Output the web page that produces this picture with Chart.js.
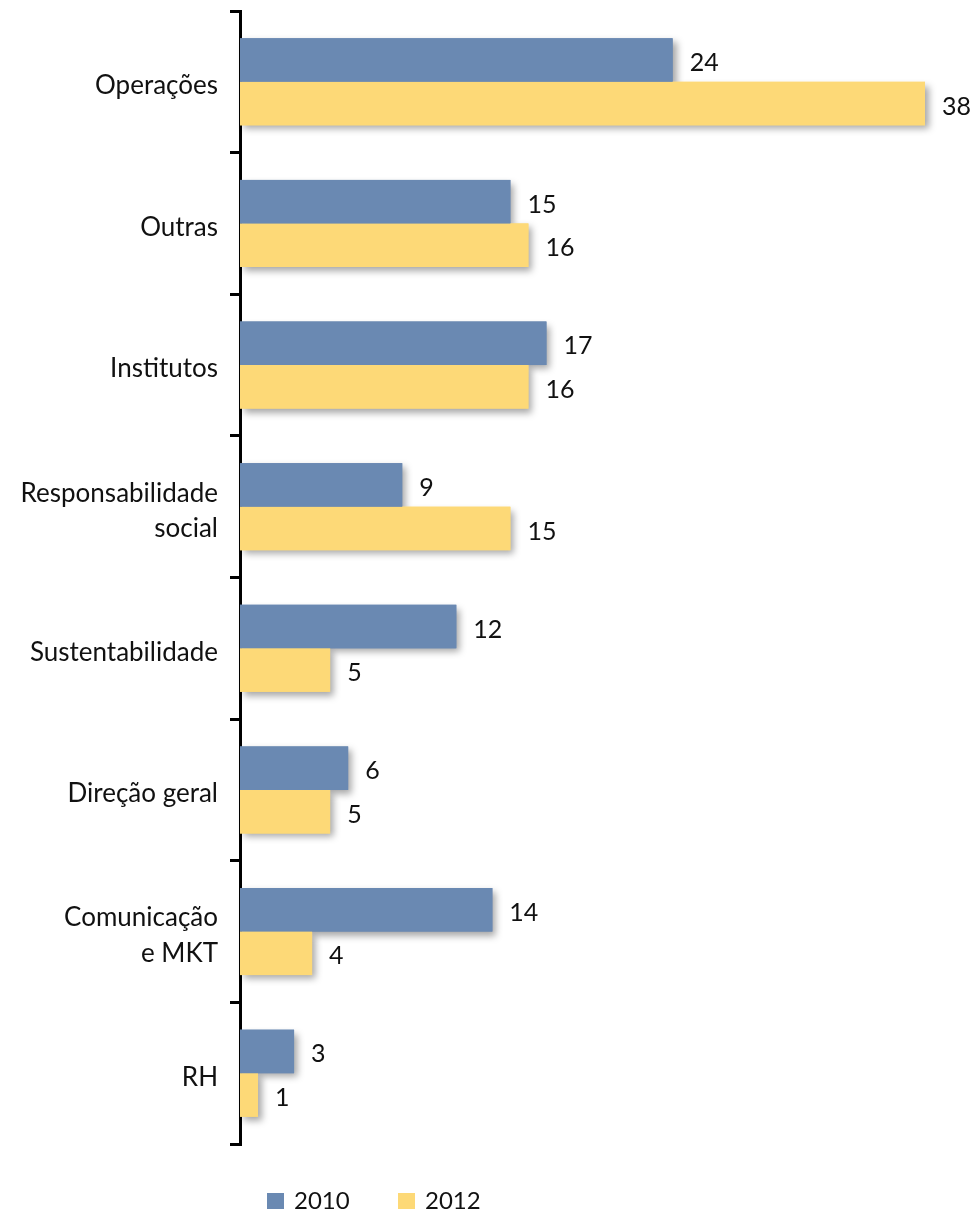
<!DOCTYPE html>
<html>
<head>
<meta charset="utf-8">
<script src="https://cdn.jsdelivr.net/npm/chart.js@4.4.0/dist/chart.umd.min.js"></script>
<style>
  html, body { margin: 0; padding: 0; background: #ffffff; }
  #wrap { width: 978px; height: 1213px; position: relative; }
</style>
</head>
<body>
<div id="wrap"><canvas id="c" width="978" height="1213"></canvas></div>
<script>
const categories = ["Operações", "Outras", "Institutos", ["Responsabilidade", "social"], "Sustentabilidade", "Direção geral", ["Comunicação", "e MKT"], "RH"];
const seriesNames = ["2010", "2012"];
const values2010 = [24, 15, 17, 9, 12, 6, 14, 3];
const values2012 = [38, 16, 16, 15, 5, 5, 4, 1];
const seriesColors = ["#6A89B2", "#FDD977"];

const FONT = "Lato, 'Open Sans', sans-serif";
const TEXT = "#111111";

const shadowPlugin = {
  id: 'barShadow',
  beforeDatasetsDraw(chart) {
    const ctx = chart.ctx;
    ctx.save();
    ctx.shadowColor = 'rgba(0,0,0,0.35)';
    ctx.shadowBlur = 7;
    ctx.shadowOffsetX = 4;
    ctx.shadowOffsetY = 4;
    chart.data.datasets.forEach((ds, i) => {
      const meta = chart.getDatasetMeta(i);
      ctx.fillStyle = ds.backgroundColor;
      meta.data.forEach(bar => {
        const h = bar.height;
        ctx.fillRect(bar.base, bar.y - h / 2, bar.x - bar.base, h);
      });
    });
    ctx.restore();
  }
};

const valueLabels = {
  id: 'valueLabels',
  afterDatasetsDraw(chart) {
    const ctx = chart.ctx;
    ctx.save();
    ctx.font = "25px " + FONT;
    ctx.fillStyle = TEXT;
    ctx.textAlign = 'left';
    ctx.textBaseline = 'middle';
    chart.data.datasets.forEach((ds, i) => {
      const meta = chart.getDatasetMeta(i);
      meta.data.forEach((bar, j) => {
        ctx.fillText(String(ds.data[j]), bar.x + 17, bar.y + 3);
      });
    });
    ctx.restore();
  }
};

const customLegend = {
  id: 'customLegend',
  afterDraw(chart) {
    const ctx = chart.ctx;
    ctx.save();
    ctx.font = "24px " + FONT;
    ctx.textBaseline = 'middle';
    ctx.textAlign = 'left';
    const starts = [267, 398];
    chart.data.datasets.forEach((ds, i) => {
      const x = starts[i];
      ctx.fillStyle = ds.backgroundColor;
      ctx.fillRect(x, 1193, 17, 16);
      ctx.fillStyle = TEXT;
      ctx.fillText(ds.label, x + 27, 1201);
    });
    ctx.restore();
  }
};

new Chart(document.getElementById('c'), {
  type: 'bar',
  data: {
    labels: categories,
    datasets: [
      { label: seriesNames[0], data: values2010, backgroundColor: seriesColors[0] },
      { label: seriesNames[1], data: values2012, backgroundColor: seriesColors[1] }
    ]
  },
  options: {
    indexAxis: 'y',
    responsive: false,
    animation: false,
    devicePixelRatio: 1,
    categoryPercentage: 0.615,
    barPercentage: 1.0,
    layout: { padding: { left: 0, right: 53, top: 11, bottom: 69 } },
    plugins: {
      legend: { display: false },
      tooltip: { enabled: false }
    },
    scales: {
      x: { display: false, min: 0, max: 38 },
      y: {
        offset: true,
        afterFit(scale) { scale.width = 240; scale.paddingTop = 0; scale.paddingBottom = 0; },
        border: { display: true, color: '#000000', width: 3 },
        grid: {
          display: true,
          offset: true,
          drawOnChartArea: false,
          drawTicks: true,
          tickLength: 10,
          color: '#000000',
          lineWidth: 3
        },
        ticks: {
          color: TEXT,
          padding: 12,
          labelOffset: 4,
          font: { family: FONT, size: 26, lineHeight: 1.35 }
        }
      }
    }
  },
  plugins: [shadowPlugin, valueLabels, customLegend]
});
</script>
</body>
</html>
